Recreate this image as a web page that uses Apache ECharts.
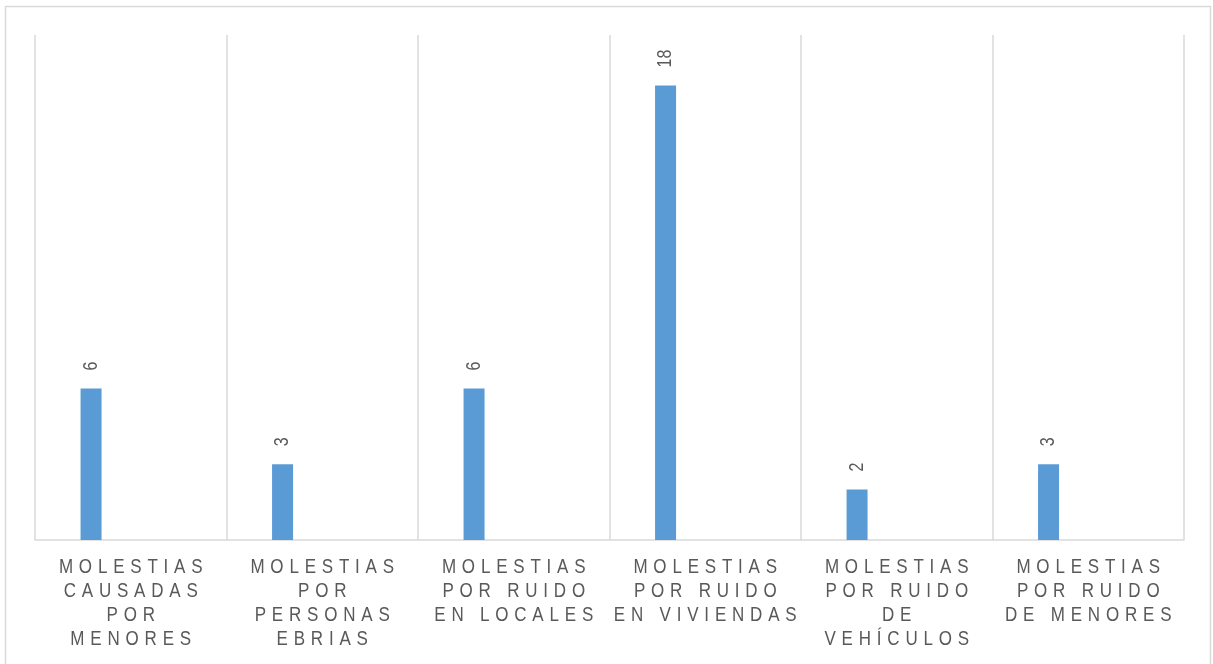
<!DOCTYPE html>
<html>
<head>
<meta charset="utf-8">
<script src="https://cdn.jsdelivr.net/npm/echarts@6/dist/echarts.min.js"></script>
<style>
html,body{margin:0;padding:0;background:#fff;}
#chart{width:1213px;height:664px;}
</style>
</head>
<body>
<div id="chart"></div>
<script>
var categoryLabels = [
  'MOLESTIAS\nCAUSADAS\nPOR\nMENORES',
  'MOLESTIAS\nPOR\nPERSONAS\nEBRIAS',
  'MOLESTIAS\nPOR RUIDO\nEN LOCALES',
  'MOLESTIAS\nPOR RUIDO\nEN VIVIENDAS',
  'MOLESTIAS\nPOR RUIDO\nDE\nVEHÍCULOS',
  'MOLESTIAS\nPOR RUIDO\nDE MENORES'
];
var values = [6, 3, 6, 18, 2, 3];
var emptySeries = [];

// Narrow, tall glyph look with letter spacing for axis labels (17px) and data labels (16px)
(function(){
  var orig = CanvasRenderingContext2D.prototype.fillText;
  CanvasRenderingContext2D.prototype.fillText = function(t, x, y, w){
    var f = this.font || '';
    var isAxis = f.indexOf('17px') >= 0;
    var isData = f.indexOf('16px') >= 0;
    if (isAxis || isData) {
      var sp = isAxis ? 5.8 : 0;
      this.save();
      this.letterSpacing = sp + 'px';
      this.translate(x + sp / 2, y);
      this.scale(1, 1.24);
      var r = orig.call(this, t, 0, 0);
      this.restore();
      this.letterSpacing = '0px';
      return r;
    }
    return orig.apply(this, arguments);
  };
})();

var FONT = '"Liberation Sans", Arial, sans-serif';
var chart = echarts.init(document.getElementById('chart'), null, {renderer: 'canvas'});
chart.setOption({
  animation: false,
  backgroundColor: '#fff',
  graphic: [{
    type: 'rect',
    shape: {x: 5.5, y: 6.5, width: 1205, height: 720},
    style: {fill: 'none', stroke: '#D9D9D9', lineWidth: 1.5},
    silent: true
  }],
  grid: {left: 35, right: 29, top: 35, bottom: 124},
  xAxis: {
    type: 'category',
    data: categoryLabels,
    axisLine: {show: true, lineStyle: {color: '#D9D9D9', width: 1.5}},
    axisTick: {show: false},
    splitLine: {show: true, lineStyle: {color: '#D9D9D9', width: 1.5}},
    axisLabel: {
      interval: 0,
      color: '#595959',
      fontFamily: FONT,
      fontSize: 17,
      lineHeight: 24,
      margin: 15
    }
  },
  yAxis: {
    type: 'value',
    min: 0, max: 20,
    show: false,
    splitLine: {show: false}
  },
  series: [{
    type: 'bar',
    data: values,
    barWidth: 21,
    barGap: '278%',
    itemStyle: {color: '#5B9BD5'},
    label: {
      show: true,
      position: 'top',
      rotate: 90,
      align: 'left',
      verticalAlign: 'middle',
      distance: 18,
      color: '#595959',
      fontFamily: FONT,
      fontSize: 16
    }
  }, {
    type: 'bar',
    data: emptySeries,
    barWidth: 21,
    itemStyle: {color: '#ED7D31'}
  }]
});
</script>
</body>
</html>
